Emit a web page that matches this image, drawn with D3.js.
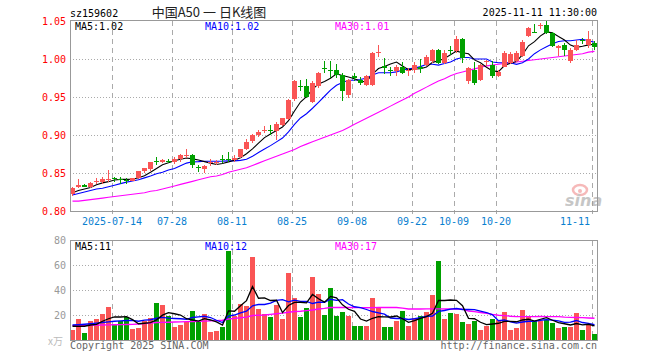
<!DOCTYPE html>
<html>
<head>
<meta charset="utf-8">
<script src="https://cdn.jsdelivr.net/npm/d3@7"></script>
<style>
  html, body { margin: 0; padding: 0; background: #fff; }
  text { font-family: "DejaVu Sans Mono", monospace; font-size: 10px; }
</style>
</head>
<body>
<div id="chart"></div>
<script>
// trading days shown
var dates = ["07-03","07-04","07-07","07-08","07-09","07-10","07-11","07-14","07-15","07-16",
  "07-17","07-18","07-21","07-22","07-23","07-24","07-25","07-28","07-29","07-30",
  "07-31","08-01","08-04","08-05","08-06","08-07","08-08","08-11","08-12","08-13",
  "08-14","08-15","08-18","08-19","08-20","08-21","08-22","08-25","08-26","08-27",
  "08-28","08-29","09-01","09-02","09-03","09-04","09-05","09-08","09-09","09-10",
  "09-11","09-12","09-15","09-16","09-17","09-18","09-19","09-22","09-23","09-24",
  "09-25","09-26","09-29","09-30","10-09","10-10","10-13","10-14","10-15","10-16",
  "10-17","10-20","10-21","10-22","10-23","10-24","10-27","10-28","10-29","10-30",
  "10-31","11-03","11-04","11-05","11-06","11-07","11-10","11-11"];

var openP = [0.822,0.831,0.834,0.831,0.839,0.838,0.841,0.844,0.842,0.841,
  0.840,0.843,0.852,0.855,0.866,0.864,0.866,0.865,0.869,0.873,
  0.874,0.858,0.855,0.863,0.864,0.869,0.868,0.867,0.871,0.882,
  0.892,0.900,0.906,0.906,0.905,0.913,0.921,0.947,0.965,0.964,
  0.944,0.965,0.988,0.986,0.985,0.979,0.952,0.977,0.973,0.966,
  0.966,1.008,0.991,0.986,0.984,0.989,0.984,0.985,0.990,0.992,
  0.997,1.012,0.995,1.012,1.010,1.026,0.971,0.986,0.973,0.996,
  0.992,0.977,0.990,0.995,0.997,1.004,1.030,1.036,1.044,1.045,
  1.034,1.0145,1.019,0.997,1.012,1.025,1.019,1.021];
var highP = [0.831,0.842,0.835,0.838,0.844,0.845,0.854,0.845,0.845,0.843,
  0.844,0.853,0.857,0.865,0.871,0.869,0.868,0.871,0.875,0.881,
  0.875,0.861,0.860,0.868,0.867,0.874,0.878,0.874,0.882,0.895,
  0.901,0.906,0.912,0.913,0.917,0.923,0.948,0.973,0.973,0.974,
  0.971,0.983,0.997,0.998,0.993,0.982,0.974,0.981,0.976,0.979,
  1.009,1.018,1.001,0.989,0.992,0.996,0.988,0.996,1.000,1.005,
  1.013,1.013,1.012,1.017,1.030,1.027,0.990,0.996,0.994,0.999,
  0.998,0.985,1.010,1.009,1.010,1.025,1.042,1.046,1.047,1.050,
  1.036,1.018,1.021,1.014,1.025,1.028,1.037,1.024];
var lowP = [0.820,0.830,0.831,0.830,0.836,0.836,0.838,0.838,0.835,0.836,
  0.839,0.842,0.850,0.853,0.861,0.863,0.863,0.862,0.865,0.870,
  0.856,0.851,0.850,0.859,0.861,0.863,0.864,0.865,0.870,0.880,
  0.890,0.898,0.903,0.900,0.894,0.912,0.920,0.945,0.958,0.949,
  0.942,0.962,0.981,0.975,0.975,0.945,0.949,0.971,0.966,0.964,
  0.965,1.002,0.980,0.978,0.978,0.980,0.978,0.981,0.981,0.991,
  0.995,0.993,0.993,1.005,1.008,0.995,0.967,0.966,0.971,0.991,
  0.975,0.976,0.989,0.994,0.996,1.002,1.029,1.034,1.039,1.033,
  1.016,1.004,1.004,0.995,1.010,1.020,1.014,1.012];
var closeP = [0.830,0.834,0.832,0.837,0.840,0.842,0.842,0.843,0.841,0.840,
  0.843,0.852,0.856,0.864,0.865,0.867,0.865,0.869,0.874,0.874,
  0.861,0.857,0.859,0.864,0.865,0.868,0.867,0.870,0.881,0.891,
  0.900,0.904,0.907,0.905,0.914,0.922,0.946,0.971,0.964,0.950,
  0.969,0.982,0.987,0.985,0.979,0.958,0.973,0.975,0.968,0.977,
  1.008,1.009,0.988,0.985,0.990,0.982,0.985,0.992,0.987,1.002,
  1.012,0.995,1.008,1.011,1.026,1.001,0.988,0.968,0.992,0.997,
  0.977,0.983,1.008,1.007,1.008,1.023,1.041,1.035,1.045,1.034,
  1.017,1.0167,1.012,1.012,1.019,1.024,1.026,1.016];

var ma5P = [0.824,0.827,0.829,0.831,0.8346,0.837,0.8386,0.8408,0.8416,0.8416,
  0.8418,0.8438,0.8464,0.851,0.856,0.8608,0.8634,0.866,0.868,0.8698,
  0.8686,0.867,0.865,0.863,0.8612,0.8626,0.8646,0.8668,0.8702,0.8754,
  0.8818,0.8892,0.8966,0.9014,0.906,0.9104,0.9188,0.9316,0.9434,0.9506,
  0.960,0.9672,0.9704,0.9746,0.9804,0.9782,0.9764,0.974,0.9706,0.9702,
  0.9802,0.9874,0.990,0.9934,0.996,0.9908,0.986,0.9868,0.9872,0.9896,
  0.9956,0.9976,1.0008,1.0056,1.0104,1.0082,1.0068,0.9988,0.995,0.9892,
  0.9844,0.9834,0.9914,0.9944,0.9966,1.0058,1.0174,1.0228,1.0304,1.0356,
  1.0344,1.0295,1.0249,1.0183,1.0153,1.0167,1.0186,1.0194];
var ma10P = [0.821,0.823,0.825,0.827,0.829,0.830,0.832,0.834,0.836,0.838,
  0.8394,0.841,0.8436,0.846,0.849,0.851,0.854,0.856,0.8595,0.863,
  0.8647,0.865,0.8655,0.8655,0.8655,0.8656,0.866,0.866,0.8666,0.868,
  0.872,0.877,0.8817,0.886,0.891,0.896,0.904,0.914,0.9224,0.928,
  0.9352,0.943,0.951,0.959,0.9655,0.969,0.972,0.972,0.973,0.975,
  0.979,0.982,0.982,0.982,0.983,0.9855,0.987,0.988,0.990,0.993,
  0.993,0.992,0.994,0.996,1.000,1.002,1.002,1.000,1.000,1.000,
  0.996,0.995,0.995,0.995,0.993,0.995,1.000,1.007,1.012,1.016,
  1.020,1.023,1.024,1.024,1.025,1.026,1.024,1.022];
var ma30P = [0.813,0.813,0.814,0.815,0.816,0.817,0.818,0.819,0.820,0.821,
  0.822,0.823,0.824,0.826,0.827,0.829,0.831,0.833,0.835,0.837,
  0.839,0.841,0.843,0.845,0.846,0.848,0.851,0.853,0.855,0.857,
  0.860,0.863,0.866,0.869,0.872,0.875,0.878,0.881,0.885,0.888,
  0.891,0.894,0.897,0.900,0.903,0.906,0.910,0.914,0.918,0.922,
  0.926,0.930,0.934,0.938,0.942,0.946,0.950,0.955,0.959,0.963,
  0.967,0.971,0.974,0.978,0.981,0.983,0.985,0.987,0.989,0.991,
  0.992,0.993,0.994,0.995,0.996,0.997,0.998,0.999,1.000,1.001,
  1.002,1.003,1.004,1.005,1.006,1.007,1.009,1.010];

// volume, 万手
var volume = [8,16.8,5.6,15.2,16.8,20.8,26.4,12.8,15.2,18.4,
  8.8,9.6,15.2,17.3,29.6,28,19.5,10.7,12,14.7,
  23.2,14.7,20.8,6.7,7.2,10.4,71.2,19.5,28.8,27.5,
  66.4,24.8,21,18.4,28.3,16.8,53.6,33.6,18.7,25.6,
  50.4,36.8,20,41.8,19.5,22.4,19.5,11.2,11.2,11.2,
  33.9,25.9,10.4,10.4,15.2,23.2,11.2,17.3,19.5,22.4,
  36,63.2,16.8,21.6,20.8,14.4,12.8,15.2,8,11.2,
  16.8,16,22.4,8,9.6,24,19.2,15.2,15.2,16,
  13.6,9.6,10.4,10.5,22,8,12,4.5];
var ma5V = [11,11,11,12,12.5,15,17,18.4,18.4,18.7,
  16.3,13,13.4,13.9,16.1,19.9,21.9,21,20,17,
  16,15.1,17.1,16,14.5,12,23.3,23,27.4,31.5,
  42.7,33.4,33.7,31.6,31.8,21.9,27.6,30.1,30.2,29.7,
  36.4,33,30.3,34.9,33.7,28.1,24.6,22.9,16.8,15.1,
  17.4,18.7,18.5,18.4,19.2,17,14.1,15.5,17.3,18.7,
  21.3,31.7,31.6,32,31.7,27.4,17.3,17,14.2,12.3,
  12.8,13.4,14.9,14.9,14.6,16,16.6,15.2,16.6,17.9,
  15.8,13.9,13,12,13.2,12.1,12.6,11.3];
var ma10V = [12,12.3,12.6,13,13.5,14,14.5,15,15.3,15.6,
  15.7,15,15.9,16.2,17.4,18.1,17.5,17.2,17,16.6,
  18,18.5,19,18,15.8,14,19.2,20,21.7,23,
  27.4,28.4,28.4,29.5,31.7,32.3,30.5,31.9,30.9,30.8,
  29.2,30.3,30.2,32.6,31.7,32.3,28.8,26.6,25.9,24.4,
  22.8,21.7,20.7,17.6,17.2,17.2,16.4,17,17.9,19,
  19.2,22.9,23.6,24.7,25.2,24.4,24.5,24.3,23.1,22,
  20.1,15.4,16,14.6,13.5,14.4,15,15,15.8,16.3,
  15.9,15.3,14.1,14.3,15.6,14,13.3,12.2];
var ma30V = [11.5,11.6,11.7,11.8,11.9,12,12.1,12.2,12.3,12.4,
  12.5,12.8,13.1,13.5,14,14.1,14.2,14.4,14.5,14.7,
  14.8,15,15.1,15.3,15.5,15.8,16.8,17.3,17.8,18.3,
  19.6,19.8,20,20.5,21,21.5,22.2,22.8,23,23.5,
  24,24.8,25.3,26,26,26.1,26,25.9,25.9,25.8,
  25.9,26,26,26,26,25.5,24.8,24.8,24.8,24.9,
  24.9,24.9,24.8,24.8,24.8,24.7,23.2,22.7,22,21.4,
  20.5,19.8,19.5,19,18.7,18.7,18.7,18.7,18.8,18.7,
  18.7,18.7,18.3,18.1,18,17.9,17.6,17.4];

var tickDates = ["07-14","07-28","08-11","08-25","09-08","09-22","10-09","10-20","11-11"];
var tickLabels = ["2025-07-14","07-28","08-11","08-25","09-08","09-22","10-09","10-20","11-11"];
var priceTicks = [0.80, 0.85, 0.90, 0.95, 1.00, 1.05];
var volTicks = [20, 40, 60, 80];

var RED = "#fa5555", GREEN = "#00a000";

function main() {
  var svg = d3.select("#chart").append("svg")
    .attr("width", 660).attr("height", 360);
  svg.append("rect").attr("width", 660).attr("height", 360).attr("fill", "#fff");

  var x = d3.scaleBand().domain(dates).range([70, 598]);
  var yP = d3.scaleLinear().domain([0.8, 1.05]).range([211, 21]);
  var yV = d3.scaleLinear().domain([0, 80]).range([340, 240]);
  var cx = function (d) { return x(d) + 2.5; };

  // grids
  var grid = svg.append("g").attr("stroke", "#aaa").attr("shape-rendering", "crispEdges");
  grid.selectAll(".hp").data(priceTicks.slice(1, -1)).enter().append("line")
    .attr("x1", 70).attr("x2", 597)
    .attr("y1", function (t) { return Math.round(yP(t)) + 0.5; })
    .attr("y2", function (t) { return Math.round(yP(t)) + 0.5; })
    .attr("stroke-dasharray", "1,2");
  grid.selectAll(".hv").data(volTicks.slice(0, -1)).enter().append("line")
    .attr("x1", 70).attr("x2", 597)
    .attr("y1", function (t) { return Math.round(yV(t)) + 0.5; })
    .attr("y2", function (t) { return Math.round(yV(t)) + 0.5; })
    .attr("stroke-dasharray", "1,2");
  [[21, 214], [241, 340]].forEach(function (r) {
    grid.selectAll(null).data(tickDates).enter().append("line")
      .attr("x1", function (d) { return x(d) + 0.5; })
      .attr("x2", function (d) { return x(d) + 0.5; })
      .attr("y1", r[0]).attr("y2", r[1])
      .attr("stroke-dasharray", "5,4");
  });

  // sina watermark
  var wm = svg.append("g").attr("opacity", 0.55);
  wm.append("ellipse").attr("cx", 580).attr("cy", 190).attr("rx", 7).attr("ry", 5)
    .attr("fill", "none").attr("stroke", "#f08080").attr("stroke-width", 2.5);
  wm.append("circle").attr("cx", 580).attr("cy", 191).attr("r", 2).attr("fill", "#f08080");
  wm.append("text").attr("x", 565).attr("y", 206)
    .style("font-family", "DejaVu Sans").style("font-size", "16px")
    .style("font-style", "italic").style("font-weight", "bold")
    .attr("fill", "#999").text("sina");

  // price MA lines
  function maLine(arr, ys) {
    return d3.line().x(function (d) { return cx(d); })
      .y(function (d, i) { return ys(arr[i]); });
  }
  [[ma30P, "#ff00ff"], [ma10P, "#0000ff"], [ma5P, "#000"]].forEach(function (m) {
    svg.append("path").datum(dates).attr("fill", "none")
      .attr("stroke", m[1]).attr("stroke-width", 1.1)
      .attr("d", maLine(m[0], yP));
  });

  // candles
  var up = function (i) { return closeP[i] >= openP[i]; };
  var cd = svg.append("g").attr("shape-rendering", "crispEdges");
  var c = cd.selectAll(".candle").data(dates).enter().append("g").attr("class", "candle");
  c.append("line")
    .attr("x1", function (d) { return x(d) + 2.5; })
    .attr("x2", function (d) { return x(d) + 2.5; })
    .attr("y1", function (d, i) { return yP(highP[i]); })
    .attr("y2", function (d, i) { return yP(lowP[i]); })
    .attr("stroke", function (d, i) { return up(i) ? RED : GREEN; });
  c.append("rect")
    .attr("x", function (d) { return x(d); })
    .attr("width", 5)
    .attr("y", function (d, i) { return yP(Math.max(openP[i], closeP[i])); })
    .attr("height", function (d, i) { return Math.max(1, Math.abs(yP(openP[i]) - yP(closeP[i]))); })
    .attr("fill", function (d, i) { return up(i) ? RED : GREEN; });

  // volume bars
  svg.append("g").attr("shape-rendering", "crispEdges")
    .selectAll("rect").data(dates).enter().append("rect")
    .attr("x", function (d) { return x(d); })
    .attr("width", 5)
    .attr("y", function (d, i) { return yV(volume[i]); })
    .attr("height", function (d, i) { return yV(0) - yV(volume[i]); })
    .attr("fill", function (d, i) { return up(i) ? RED : GREEN; });

  [[ma30V, "#ff00ff"], [ma10V, "#0000ff"], [ma5V, "#000"]].forEach(function (m) {
    svg.append("path").datum(dates).attr("fill", "none")
      .attr("stroke", m[1]).attr("stroke-width", 1.3)
      .attr("d", maLine(m[0], yV));
  });

  // frames
  var fr = svg.append("g").attr("fill", "none").attr("stroke", "#999").attr("shape-rendering", "crispEdges");
  fr.append("rect").attr("x", 70.5).attr("y", 20.5).attr("width", 527).attr("height", 191);
  fr.append("rect").attr("x", 70.5).attr("y", 240.5).attr("width", 527).attr("height", 100);

  // axis labels
  svg.selectAll(".pl").data(priceTicks).enter().append("text")
    .attr("x", 66).attr("y", function (t) { return yP(t) + 3.5; })
    .attr("text-anchor", "end").attr("fill", "#f00")
    .text(function (t) { return d3.format(".2f")(t); });
  svg.selectAll(".vl").data(volTicks).enter().append("text")
    .attr("x", 66).attr("y", function (t) { return yV(t) + 3.5; })
    .attr("text-anchor", "end").attr("fill", "#999")
    .text(function (t) { return t; });
  svg.append("text").attr("x", 63).attr("y", 345).attr("text-anchor", "end")
    .attr("fill", "#bbb").style("font-family", "Noto Sans CJK SC").text("x万");

  svg.selectAll(".dl").data(tickDates).enter().append("text")
    .attr("x", function (d, i) { return i === tickDates.length - 1 ? x(d) - 2 : x(d); })
    .attr("y", 225)
    .attr("text-anchor", function (d, i) { return i === tickDates.length - 1 ? "end" : "middle"; })
    .attr("fill", "#0a80d0")
    .text(function (d, i) { return tickLabels[i]; });

  // legends
  var last = dates.length - 1;
  var f2 = d3.format(".2f");
  svg.append("text").attr("x", 75).attr("y", 30).attr("fill", "#000").text("MA5:" + f2(ma5P[last]));
  svg.append("text").attr("x", 205).attr("y", 30).attr("fill", "#0000ff").text("MA10:" + f2(ma10P[last]));
  svg.append("text").attr("x", 335).attr("y", 30).attr("fill", "#ff00ff").text("MA30:" + f2(ma30P[last]));
  svg.append("text").attr("x", 75).attr("y", 250).attr("fill", "#000").text("MA5:" + Math.round(ma5V[last]));
  svg.append("text").attr("x", 205).attr("y", 250).attr("fill", "#0000ff").text("MA10:" + Math.round(ma10V[last]));
  svg.append("text").attr("x", 335).attr("y", 250).attr("fill", "#ff00ff").text("MA30:" + Math.round(ma30V[last]));

  // header / footer
  svg.append("text").attr("x", 70).attr("y", 17).attr("fill", "#000").text("sz159602");
  svg.append("text").attr("x", 209).attr("y", 17).attr("text-anchor", "middle")
    .style("font-family", "Noto Sans CJK SC").style("font-size", "13px")
    .attr("fill", "#222").text("中国A50 一 日K线图");
  svg.append("text").attr("x", 597).attr("y", 16).attr("text-anchor", "end")
    .attr("fill", "#000").text("2025-11-11 11:30:00");
  svg.append("text").attr("x", 70).attr("y", 349).attr("fill", "#666").text("Copyright 2025 SINA.COM");
  svg.append("text").attr("x", 597).attr("y", 349).attr("text-anchor", "end")
    .attr("fill", "#666").text("http://finance.sina.com.cn");
}
main();
</script>
</body>
</html>
